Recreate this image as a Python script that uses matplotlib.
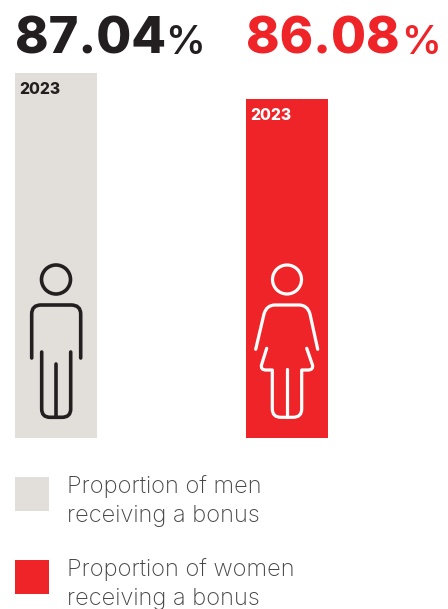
#!/usr/bin/env python3
"""Bonus proportion by gender, 2023: two bars with outline figures and a legend."""
import matplotlib

matplotlib.use("Agg")
import matplotlib.pyplot as plt  # noqa: E402
from matplotlib.patches import Circle, PathPatch, Rectangle  # noqa: E402
from matplotlib.path import Path  # noqa: E402

W, H = 448, 609
INK = "#231f20"
RED = "#ee2429"
STONE = "#e2dfda"
LABEL = "#454545"
FONT = ["Inter", "DejaVu Sans"]

groups = ["men", "women"]
values = [87.04, 86.08]
year = "2023"
legend_labels = ["Proportion of men\nreceiving a bonus",
                 "Proportion of women\nreceiving a bonus"]
colors = [STONE, RED]
value_colors = [INK, RED]


def outline(ax, pts, color, lw=2.6):
    # pts: plain vertices, or (x, y, "c") for a rounded-corner control point
    verts, codes = [], []
    after_ctrl = False
    for p in pts:
        verts.append(p[:2])
        if not codes:
            codes.append(Path.MOVETO)
        elif len(p) == 3 or after_ctrl:
            codes.append(Path.CURVE3)
        else:
            codes.append(Path.LINETO)
        after_ctrl = len(p) == 3
    ax.add_patch(PathPatch(Path(verts, codes), fill=False, ec=color, lw=lw,
                           capstyle="round", joinstyle="round", zorder=5))


def man(ax, color):
    ax.add_patch(Circle((56, 279.5), 14.5, fill=False, ec=color, lw=2.6, zorder=5))
    outline(ax, [(31.7, 358), (31.7, 314), (31.7, 305, "c"), (41, 305), (71, 305),
                 (80.7, 305, "c"), (80.7, 314), (80.7, 358)], color)
    outline(ax, [(41.7, 352), (41.7, 409), (41.7, 417.3, "c"), (50, 417.3), (62, 417.3),
                 (70.7, 417.3, "c"), (70.7, 409), (70.7, 352)], color)
    outline(ax, [(56, 364), (56, 417.3)], color)


def woman(ax, color):
    lw = 2.3
    ax.add_patch(Circle((287, 279.5), 14.5, fill=False, ec=color, lw=lw, zorder=5))
    outline(ax, [(255.7, 349.3), (264, 314), (266.5, 305, "c"), (275, 305), (299, 305),
                 (307.5, 305, "c"), (310, 314), (317.7, 349.3)], color, lw)
    outline(ax, [(266.7, 348.3), (261.5, 365), (260.5, 370, "c"), (266, 370), (272.3, 370),
                 (272.3, 409), (272.3, 417.3, "c"), (281, 417.3), (293, 417.3),
                 (301.7, 417.3, "c"), (301.7, 409), (301.7, 370), (308, 370),
                 (313.5, 370, "c"), (312.5, 365), (306.7, 348.3)], color, lw)
    outline(ax, [(287, 368.5), (287, 417.3)], color, lw)


fig = plt.figure(figsize=(W / 100, H / 100), dpi=100, facecolor="white")

# Bars sit on a truncated value axis, so the small gap between them reads clearly
bar_ax = fig.add_axes([15 / W, 1 - 438 / H, 313 / W, 365 / H])
bar_ax.bar([0, 1], values, width=82 / 231, bottom=0, color=colors, linewidth=0)
bar_ax.set_xlim(-41 / 231, 1 + 41 / 231)
bar_ax.set_ylim(73.56, 87.04)
bar_ax.axis("off")

# Full-figure overlay in pixel coordinates for text, figures and legend keys
ax = fig.add_axes([0, 0, 1, 1], zorder=3)
ax.set_xlim(0, W)
ax.set_ylim(H, 0)
ax.axis("off")

for x, val, col, pct_gap in zip([15, 246], values, value_colors, [150, 155]):
    ax.text(x, 54, f"{val:.2f}", fontsize=36.5, fontweight=800, color=col,
            family=FONT, va="baseline", ha="left")
    # the percent sign is set smaller and lighter, tucked against the digits
    ax.text(x + pct_gap, 54, "%", fontsize=28.5, fontweight="semibold", color=col,
            family=FONT, va="baseline", ha="left")

ax.text(19, 94, year, fontsize=11.3, fontweight=800, color=INK, family=FONT)
ax.text(250, 120, year, fontsize=11.3, fontweight=800, color="white", family=FONT)

man(ax, INK)
woman(ax, "white")

for y, label, col in zip([477, 560], legend_labels, colors):
    ax.add_patch(Rectangle((15, y), 34, 34, fc=col, ec="none"))
    first, second = label.split("\n")
    ax.text(67, y + 16, first, fontsize=17, fontweight="light", color=LABEL,
            family=FONT, va="baseline")
    ax.text(67, y + 45, second, fontsize=17, fontweight="light", color=LABEL,
            family=FONT, va="baseline")

fig.savefig("out.png", dpi=100)
